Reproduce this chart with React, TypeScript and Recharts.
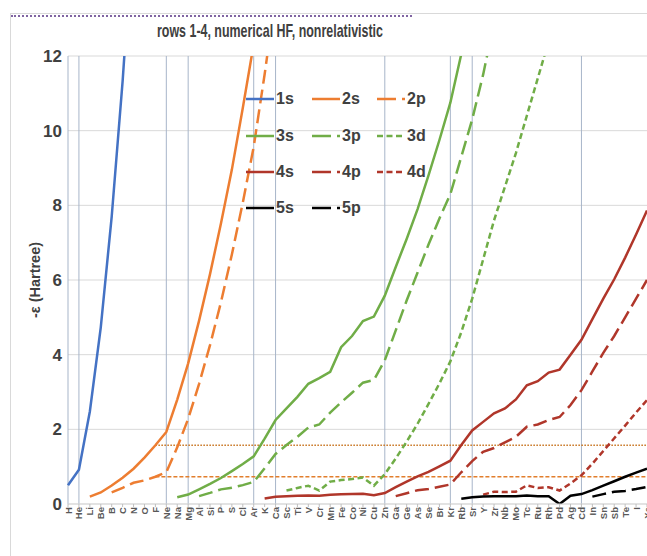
import React from 'react'
import {
  LineChart,
  Line,
  XAxis,
  YAxis,
  CartesianGrid,
  ReferenceLine,
  Legend,
} from 'recharts'

const FONT = '"Liberation Sans", Arial, sans-serif'

// elements H..Xe
const elements = [
  'H', 'He', 'Li', 'Be', 'B', 'C', 'N', 'O', 'F', 'Ne',
  'Na', 'Mg', 'Al', 'Si', 'P', 'S', 'Cl', 'Ar', 'K', 'Ca',
  'Sc', 'Ti', 'V', 'Cr', 'Mn', 'Fe', 'Co', 'Ni', 'Cu', 'Zn',
  'Ga', 'Ge', 'As', 'Se', 'Br', 'Kr', 'Rb', 'Sr', 'Y', 'Zr',
  'Nb', 'Mo', 'Tc', 'Ru', 'Rh', 'Pd', 'Ag', 'Cd', 'In', 'Sn',
  'Sb', 'Te', 'I', 'Xe',
]

// -epsilon (Hartree), each list starts at its first element
const s1s = [0.5, 0.918, 2.478, 4.733, 7.695, 11.326, 15.629]
const s2s = [0.196, 0.309, 0.495, 0.706, 0.945, 1.244, 1.572, 1.93, 2.797, 3.768, 4.911, 6.157, 7.511, 8.957, 10.608, 12.322]
const s2p = [0.31, 0.433, 0.568, 0.632, 0.73, 0.85, 1.518, 2.282, 3.218, 4.256, 5.401, 6.683, 8.073, 9.571, 11.51, 13.63]
const s3s = [0.182, 0.253, 0.394, 0.54, 0.696, 0.88, 1.073, 1.277, 1.75, 2.25, 2.56, 2.87, 3.22, 3.37, 3.54, 4.2, 4.5, 4.9, 5.02, 5.58, 6.35, 7.1, 7.9, 8.8, 9.75, 10.75, 12.05, 13.4]
const s3p = [0.21, 0.297, 0.392, 0.437, 0.506, 0.591, 0.955, 1.34, 1.58, 1.8, 2.05, 2.13, 2.45, 2.72, 2.98, 3.25, 3.32, 3.85, 4.65, 5.45, 6.2, 6.95, 7.65, 8.3, 9.3, 10.3, 11.5, 12.9]
const s3d = [0.36, 0.43, 0.49, 0.36, 0.6, 0.64, 0.67, 0.71, 0.49, 0.8, 1.22, 1.67, 2.15, 2.68, 3.23, 3.82, 4.6, 5.5, 6.55, 7.6, 8.5, 9.4, 10.4, 11.4, 12.4, 13.4]
const s4s = [0.147, 0.196, 0.21, 0.221, 0.231, 0.221, 0.248, 0.258, 0.267, 0.276, 0.238, 0.293, 0.45, 0.6, 0.74, 0.86, 1.01, 1.16, 1.58, 1.97, 2.2, 2.43, 2.56, 2.8, 3.18, 3.29, 3.52, 3.6, 4.0, 4.4, 4.95, 5.5, 6.02, 6.6, 7.22, 7.86]
const s4p = [0.21, 0.29, 0.37, 0.4, 0.46, 0.524, 0.85, 1.15, 1.4, 1.5, 1.65, 1.8, 2.07, 2.13, 2.25, 2.33, 2.65, 3.05, 3.55, 4.05, 4.5, 5.0, 5.5, 6.0]
const s4d = [0.25, 0.33, 0.32, 0.33, 0.5, 0.43, 0.45, 0.36, 0.55, 0.77, 1.08, 1.42, 1.76, 2.1, 2.45, 2.78]
const s5s = [0.138, 0.178, 0.2, 0.21, 0.21, 0.21, 0.23, 0.21, 0.21, 0, 0.22, 0.265, 0.373, 0.49, 0.61, 0.73, 0.84, 0.944]
const s5p = [0.197, 0.265, 0.33, 0.35, 0.4, 0.457]

// closed shells marked by vertical lines
const markedElements = ['H', 'He', 'Ne', 'Mg', 'Ar', 'Ca', 'Zn', 'Kr', 'Sr', 'Cd']
// F 2s / 2p levels
const fLevels = [1.572, 0.73]

const BLUE = '#4472C4'
const ORANGE = '#ED7D31'
const GREEN = '#70AD47'
const RED = '#B0362A'
const BLACK = '#000000'

const LONG = '14 6'
const SHORT = '6 3.5'

const series = [
  { key: '1s', start: 'H', values: s1s, color: BLUE, dash: undefined },
  { key: '2s', start: 'Li', values: s2s, color: ORANGE, dash: undefined },
  { key: '2p', start: 'B', values: s2p, color: ORANGE, dash: LONG },
  { key: '3s', start: 'Na', values: s3s, color: GREEN, dash: undefined },
  { key: '3p', start: 'Al', values: s3p, color: GREEN, dash: LONG },
  { key: '3d', start: 'Sc', values: s3d, color: GREEN, dash: SHORT },
  { key: '4s', start: 'K', values: s4s, color: RED, dash: undefined },
  { key: '4p', start: 'Ga', values: s4p, color: RED, dash: LONG },
  { key: '4d', start: 'Y', values: s4d, color: RED, dash: SHORT },
  { key: '5s', start: 'Rb', values: s5s, color: BLACK, dash: undefined },
  { key: '5p', start: 'In', values: s5p, color: BLACK, dash: LONG },
]

const data = elements.map((el, i) => {
  const row: Record<string, string | number | null> = { el }
  for (const s of series) {
    const k = i - elements.indexOf(s.start)
    row[s.key] = k >= 0 && k < s.values.length ? s.values[k] : null
  }
  return row
})

const legendRows = [
  ['1s', '2s', '2p'],
  ['3s', '3p', '3d'],
  ['4s', '4p', '4d'],
  ['5s', '5p'],
]
const legendColX = [246, 312, 377]
const legendRowY = [99, 136, 172, 208]

function renderLegend() {
  return (
    <div style={{ position: 'relative', width: 660, height: 556 }}>
      {legendRows.map((row, r) =>
        row.map((key, c) => {
          const s = series.find((d) => d.key === key)!
          const dash = s.dash === LONG ? '19 6' : s.dash
          return (
            <div
              key={key}
              style={{
                position: 'absolute',
                left: legendColX[c],
                top: legendRowY[r] - 10,
                height: 20,
                display: 'flex',
                alignItems: 'center',
              }}
            >
              <svg width={28} height={20}>
                <line x1={0} x2={28} y1={10} y2={10} stroke={s.color} strokeWidth={2.5} strokeDasharray={dash} />
              </svg>
              <span style={{ marginLeft: 2, font: `bold 16px ${FONT}`, color: '#404040' }}>{key}</span>
            </div>
          )
        })
      )}
    </div>
  )
}

function ElementTick(props: any) {
  const { x, y, payload } = props
  const tx = x + 3.5
  return (
    <text
      x={tx}
      y={y}
      transform={`rotate(-90, ${tx}, ${y})`}
      textAnchor="end"
      fontSize={9.5}
      fontWeight="bold"
      fontFamily={FONT}
      fill="#595959"
    >
      {payload.value}
    </text>
  )
}

export default function App() {
  return (
    <div
      style={{
        position: 'absolute',
        left: 0,
        top: 0,
        width: 647,
        height: 556,
        overflow: 'hidden',
        background: '#fff',
      }}
    >
      <div
        style={{
          position: 'absolute',
          left: 10,
          top: 13,
          width: 700,
          height: 600,
          borderLeft: '1px solid #d9d9d9',
          borderTop: '1px solid #d9d9d9',
        }}
      />
      <div
        style={{
          position: 'absolute',
          left: 11,
          top: 15,
          width: 401,
          borderTop: '2px dotted #8064A2',
        }}
      />
      <div style={{ position: 'absolute', left: 0, top: 0 }}>
        <LineChart
          width={660}
          height={556}
          data={data}
          margin={{ top: 56, right: 13, bottom: 12, left: 0 }}
        >
          <CartesianGrid vertical={false} stroke="#d9d9d9" />
          <XAxis
            dataKey="el"
            interval={0}
            height={40}
            tickSize={3}
            tickMargin={0}
            axisLine={{ stroke: '#d9d9d9' }}
            tickLine={{ stroke: '#bfbfbf' }}
            tick={<ElementTick />}
          />
          <YAxis
            type="number"
            domain={[0, 12]}
            ticks={[0, 2, 4, 6, 8, 10, 12]}
            allowDataOverflow
            width={68}
            axisLine={false}
            tickLine={false}
            tickSize={4}
            tickMargin={2}
            tick={{ fontSize: 17, fontWeight: 'bold', fill: '#404040', fontFamily: FONT }}
          />
          {markedElements.map((el) => (
            <ReferenceLine key={el} x={el} stroke="#A7B5C9" strokeWidth={1} />
          ))}
          <ReferenceLine
            segment={[
              { x: 'F', y: fLevels[0] },
              { x: 'Xe', y: fLevels[0] },
            ]}
            stroke="#C8731F"
            strokeWidth={1.5}
            strokeDasharray="1.5 1.5"
          />
          <ReferenceLine
            segment={[
              { x: 'F', y: fLevels[1] },
              { x: 'Xe', y: fLevels[1] },
            ]}
            stroke="#E27E2C"
            strokeWidth={1.3}
            strokeDasharray="4 2"
          />
          {series.map((s) => (
            <Line
              key={s.key}
              type="linear"
              dataKey={s.key}
              stroke={s.color}
              strokeWidth={2.5}
              strokeDasharray={s.dash}
              dot={false}
              activeDot={false}
              connectNulls={false}
              isAnimationActive={false}
            />
          ))}
          <Legend
            layout="vertical"
            align="center"
            verticalAlign="middle"
            content={renderLegend}
            wrapperStyle={{ left: 0, top: 0, width: 660, height: 556, pointerEvents: 'none' }}
          />
        </LineChart>
      </div>
      <svg
        width={647}
        height={556}
        style={{ position: 'absolute', left: 0, top: 0, pointerEvents: 'none' }}
      >
        <text
          x={270}
          y={37}
          textAnchor="middle"
          fontSize={18.5}
          fontWeight="bold"
          fontFamily={FONT}
          fill="#404040"
          textLength={226}
          lengthAdjust="spacingAndGlyphs"
        >
          rows 1-4, numerical HF, nonrelativistic
        </text>
        <text
          x={40}
          y={280}
          transform="rotate(-90, 40, 280)"
          textAnchor="middle"
          fontSize={15}
          fontWeight="bold"
          fontFamily={FONT}
          fill="#404040"
          textLength={76}
          lengthAdjust="spacingAndGlyphs"
        >
          -ε (Hartree)
        </text>
      </svg>
    </div>
  )
}
